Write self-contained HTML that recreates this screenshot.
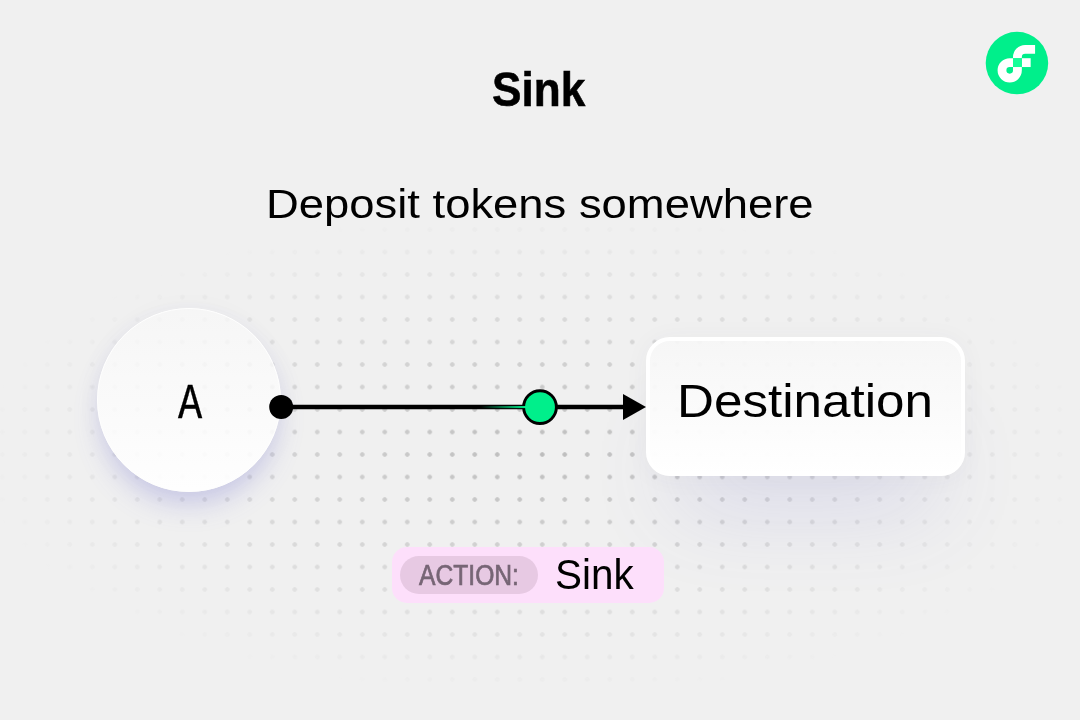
<!DOCTYPE html>
<html lang="en">
<head>
<meta charset="utf-8">
<title>Sink</title>
<style>
  html, body { margin: 0; padding: 0; }
  body {
    width: 1080px; height: 720px; overflow: hidden; position: relative;
    background: #f0f0f0;
    font-family: "Liberation Sans", sans-serif;
    color: #000;
  }
  .abs { position: absolute; }
  .txt { position: absolute; white-space: nowrap; line-height: 1; transform-origin: 0 0; display: inline-block; }
  #grid {
    position: absolute; left: 0; top: 0; width: 1080px; height: 720px;
    background-image: radial-gradient(circle at center, #bcbcbc 0, #bcbcbc 1.9px, rgba(188,188,188,0) 2.6px);
    background-size: 22.5px 22.5px;
    background-position: -9px -6.75px;
    -webkit-mask-image: radial-gradient(ellipse 558px 242px at 537px 453px, #000 0%, transparent 100%);
            mask-image: radial-gradient(ellipse 558px 242px at 537px 453px, #000 0%, transparent 100%);
  }
  #title { left: 491.6px; top: 66px; font-weight: bold; font-size: 48px; -webkit-text-stroke: 0.6px #000; transform: scaleX(0.92); }
  #sub { left: 266px; top: 183.8px; font-size: 40px; transform: scaleX(1.135); }
  #nodeA {
    position: absolute; left: 97px; top: 308px; width: 184px; height: 184px; box-sizing: border-box;
    border-radius: 50%;
    border: 1.6px solid #fff;
    background: linear-gradient(180deg, rgba(249,249,249,0.65) 0%, rgba(255,255,255,0.94) 100%);
    box-shadow: 0 17px 28px -5px rgba(105,105,210,0.27), 0 2px 26px rgba(60,60,100,0.04);
  }
  #labelA { left: 177.9px; top: 380.4px; font-family: "Liberation Mono", monospace; font-size: 48px; -webkit-text-stroke: 0.3px #000; transform: scale(0.84,1.03); }
  #dest {
    position: absolute; left: 646px; top: 337.1px; width: 319px; height: 139px; box-sizing: border-box;
    border-radius: 24px;
    border: 4.5px solid #fff;
    background: linear-gradient(180deg, rgba(247,247,247,0.9) 0%, rgba(255,255,255,0.99) 100%);
    box-shadow: 0 62px 90px -34px rgba(100,100,195,0.185), 0 2px 26px rgba(60,60,100,0.045);
  }
  #destLabel { left: 676.6px; top: 379.1px; font-size: 45.8px; transform: scaleX(1.117); }
  #pill { position: absolute; left: 391.5px; top: 547px; width: 272px; height: 55.6px; border-radius: 15px; background: #fddffb; }
  #pillIn { position: absolute; left: 400.2px; top: 555.8px; width: 137.9px; height: 38.2px; border-radius: 19.1px; background: #e7c9e3; }
  #action { left: 419.2px; top: 561px; font-size: 29px; color: #766575; -webkit-text-stroke: 0.7px #766575; transform: scaleX(0.85); }
  #sink2 { left: 555.2px; top: 554.4px; font-size: 41.8px; transform: scaleX(0.967); }
</style>
</head>
<body>
  <div id="grid"></div>

  <div id="title" class="txt">Sink</div>
  <div id="sub" class="txt">Deposit tokens somewhere</div>

  <!-- Flow logo -->
  <svg class="abs" style="left:980px; top:26px;" width="74" height="74" viewBox="0 0 74 74">
    <g transform="translate(5.7 5.85) scale(0.625)">
      <circle cx="50" cy="50" r="50" fill="#00ef8b"/>
      <rect x="57.82" y="42.18" width="14.12" height="14.12" fill="#fff"/>
      <path d="M43.71 61.59a5.3 5.3 0 1 1-5.3-5.3h5.3V42.18h-5.3a19.41 19.41 0 1 0 19.41 19.41v-5.3H43.71z" fill="#fff"/>
      <path d="M63.12 35.12H79V21H63.12a19.43 19.43 0 0 0-19.41 19.41v1.77h14.11v-1.77a5.3 5.3 0 0 1 5.3-5.29z" fill="#fff"/>
      <rect x="43.71" y="42.18" width="14.11" height="14.11" fill="#16ff99"/>
    </g>
  </svg>

  <div id="nodeA"></div>
  <div id="labelA" class="txt">A</div>

  <div id="dest"></div>
  <div id="destLabel" class="txt">Destination</div>

  <!-- connector -->
  <svg class="abs" style="left:0; top:0;" width="1080" height="720" viewBox="0 0 1080 720">
    <defs>
      <linearGradient id="trail" x1="481" y1="0" x2="526" y2="0" gradientUnits="userSpaceOnUse">
        <stop offset="0" stop-color="#00ef8b" stop-opacity="0"/>
        <stop offset="1" stop-color="#00ef8b" stop-opacity="1"/>
      </linearGradient>
    </defs>
    <line x1="281" y1="407" x2="626" y2="407" stroke="#000" stroke-width="4.5"/>
    <circle cx="281.2" cy="407" r="12" fill="#000"/>
    <polygon points="623,394 646,407 623,420" fill="#000"/>
    <circle cx="540" cy="407.1" r="16.4" fill="#00ef8b" stroke="#000" stroke-width="2.9"/>
    <rect x="481" y="406" width="45" height="2.1" fill="url(#trail)"/>
  </svg>

  <div id="pill"></div>
  <div id="pillIn"></div>
  <div id="action" class="txt">ACTION:</div>
  <div id="sink2" class="txt">Sink</div>
</body>
</html>
